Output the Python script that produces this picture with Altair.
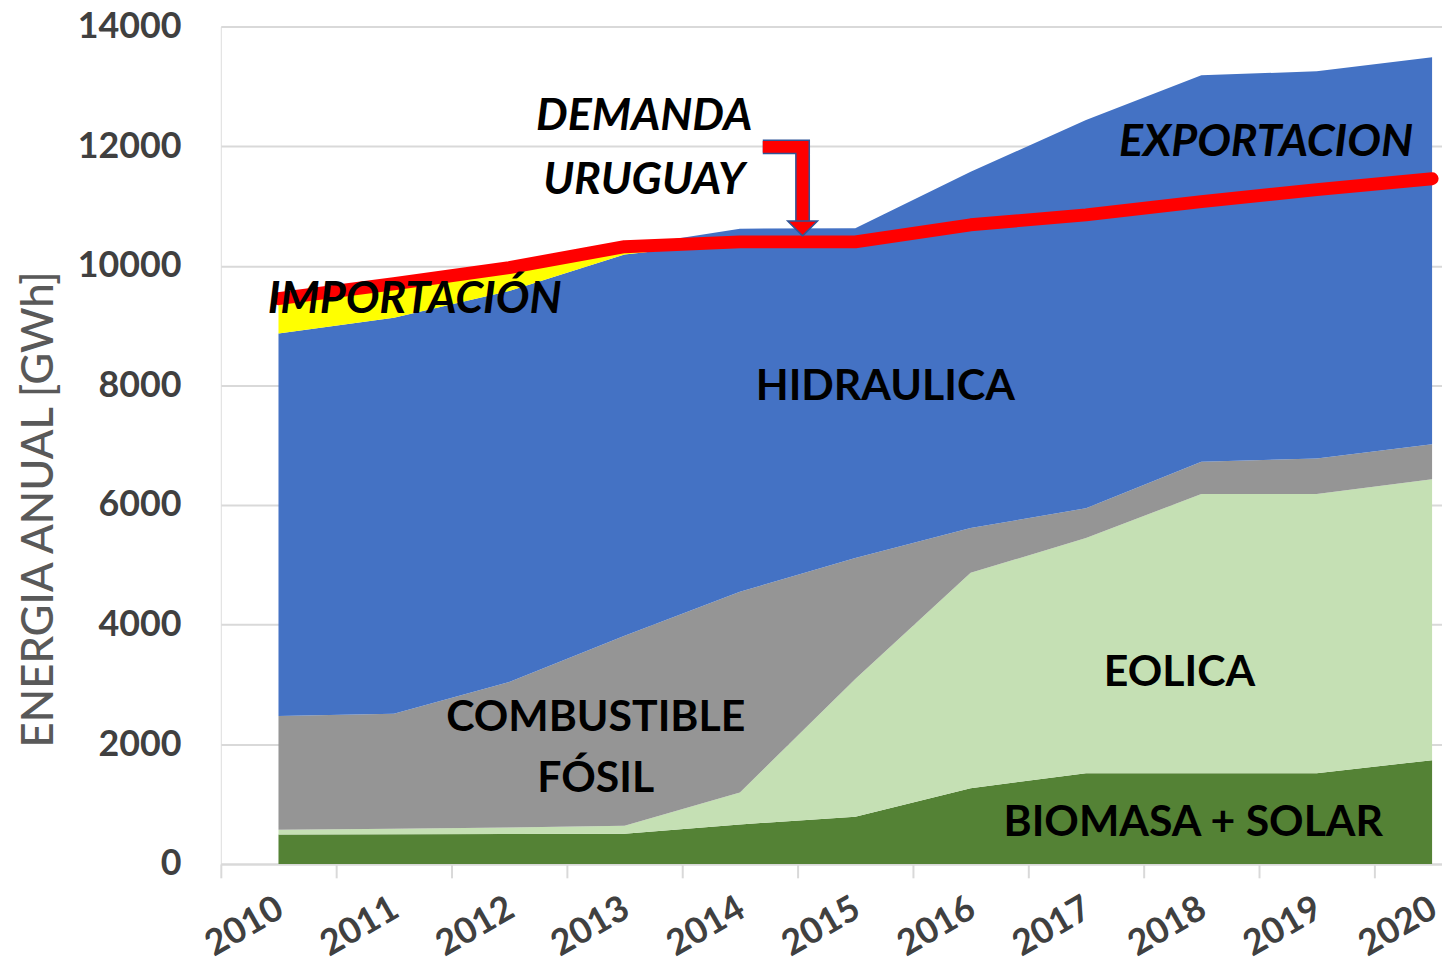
import altair as alt
import pandas as pd

# ---- datos (GWh) ----
anios = list(range(2010, 2021))
series = ["BIOMASA + SOLAR", "EOLICA", "COMBUSTIBLE FÓSIL", "HIDRAULICA", "IMPORTACIÓN", "EXPORTACION"]
colores = ["#548235", "#C5E0B4", "#959595", "#4472C4", "#FFFF00", "#4472C4"]
biomasa_solar = [490, 495, 500, 505, 660, 790, 1265, 1515, 1515, 1515, 1735]
eolica = [81, 92, 110, 132, 535, 2303, 3601, 3934, 4670, 4670, 4695]
combustible_fosil = [1901, 1924, 2430, 3178, 3355, 2023, 749, 498, 538, 594, 587]
hidraulica = [6396, 6622, 6537, 6375, 5850, 5284, 5071, 4905, 4351, 4494, 4439]
importacion = [582, 567, 393, 130, 0, 0, 0, 0, 0, 0, 0]
exportacion = [0, 0, 0, 0, 220, 230, 887, 1585, 2111, 1979, 2029]
demanda = [9450, 9700, 9970, 10320, 10400, 10400, 10686, 10852, 11074, 11273, 11456]

# etiquetas dentro del gráfico (coordenadas de datos)
etiquetas = ["HIDRAULICA", "COMBUSTIBLE", "FÓSIL", "EOLICA", "BIOMASA + SOLAR"]
etiq_x = [2015.26, 2012.75, 2012.75, 2017.81, 2017.93]
etiq_y = [7980, 2440, 1410, 3190, 680]
cursivas = ["DEMANDA", "URUGUAY", "IMPORTACIÓN", "EXPORTACION"]
curs_x = [2013.17, 2013.17, 2011.18, 2018.56]
curs_y = [12500, 11440, 9440, 12070]

# flecha "DEMANDA URUGUAY"
flecha_x = [2014.198, 2014.543, 2014.543]
flecha_y = [11988, 11988, 10708]
punta_x = [2014.543]
punta_y = [10625]

ticks_y = list(range(0, 14001, 2000))
limites_x = [2009.5 + i for i in range(11)]

# ---- tablas ----
valores = [biomasa_solar, eolica, combustible_fosil, hidraulica, importacion, exportacion]
filas = []
for k, (s, vals) in enumerate(zip(series, valores)):
    for a, v in zip(anios, vals):
        filas.append({"anio": a, "serie": s, "valor": v, "orden": k})
df_area = pd.DataFrame(filas)
df_dem = pd.DataFrame({"anio": anios, "demanda": demanda})
df_et = pd.DataFrame({"x": etiq_x, "y": etiq_y, "t": etiquetas})
df_cu = pd.DataFrame({"x": curs_x, "y": curs_y, "t": cursivas})
df_fl = pd.DataFrame({"x": flecha_x, "y": flecha_y, "i": list(range(len(flecha_x)))})
df_pu = pd.DataFrame({"x": punta_x, "y": punta_y})

FONT = "Lato"
TITULO_Y = "ENERGIA ANUAL [GWh]"
xscale = alt.Scale(domain=[2009.5, 2020.086], nice=False, zero=False)
yscale = alt.Scale(domain=[0, 14000], nice=False)

x_axis_labels = alt.Axis(
    values=anios, format="d", labelAngle=330, labelAlign="right", labelBaseline="top",
    ticks=False, tickSize=0, domain=True, domainColor="#D9D9D9", domainWidth=2, grid=False,
    labelPadding=27, labelOffset=-7, labelFont=FONT, labelFontSize=36, labelFontWeight="bold",
    labelColor="#404040", title=None, orient="bottom", labelOverlap=False, labelBound=False,
)
x_axis_ticks = alt.Axis(
    values=limites_x, labels=False, ticks=True, tickSize=14, tickColor="#D9D9D9",
    tickWidth=2, domain=False, grid=False, title=None, orient="bottom",
)
y_axis = alt.Axis(
    values=ticks_y, format="d", grid=True, gridColor="#D9D9D9", gridWidth=2, domain=False,
    ticks=False, labelPadding=40, labelFont=FONT, labelFontSize=36, labelFontWeight="bold",
    labelColor="#404040", title=TITULO_Y, titleFont=FONT, titleFontSize=44,
    titleFontWeight=500, titleColor="#595959", titleX=-182, titleY=485,
    titleAngle=270, titleAlign="center", titleBaseline="middle",
)


def Y(campo, **kw):
    return alt.Y(campo, scale=yscale, axis=y_axis, title=TITULO_Y, **kw)


def X(campo, axis=None):
    return alt.X(campo, scale=xscale, axis=axis)


areas = alt.Chart(df_area).mark_area(opacity=1).encode(
    x=X("anio:Q", x_axis_labels),
    y=Y("valor:Q", stack="zero"),
    color=alt.Color("serie:N", scale=alt.Scale(domain=series, range=colores), legend=None),
    order=alt.Order("orden:Q"),
)

linea = alt.Chart(df_dem).mark_line(
    color="#FF0000", strokeWidth=13, strokeCap="round", strokeJoin="round"
).encode(x=X("anio:Q", x_axis_ticks), y=Y("demanda:Q"))

flecha_borde = alt.Chart(df_fl).mark_line(
    color="#2F5597", strokeWidth=15, strokeCap="butt", strokeJoin="miter"
).encode(x=X("x:Q"), y=Y("y:Q"), order="i:Q")
flecha = alt.Chart(df_fl).mark_line(
    color="#FF0000", strokeWidth=12, strokeCap="butt", strokeJoin="miter"
).encode(x=X("x:Q"), y=Y("y:Q"), order="i:Q")
punta = alt.Chart(df_pu).mark_point(
    shape="M-1,-0.5L1,-0.5L0,0.5Z", size=900, filled=True, fill="#FF0000",
    stroke="#2F5597", strokeWidth=1.5, opacity=1,
).encode(x=X("x:Q"), y=Y("y:Q"))

textos = alt.Chart(df_et).mark_text(
    font=FONT, fontSize=43, fontWeight="bold", color="#000000", align="center", baseline="middle",
).encode(x=X("x:Q"), y=Y("y:Q"), text="t:N")
textos_cur = alt.Chart(df_cu).mark_text(
    font=FONT, fontSize=45, fontWeight="bold", fontStyle="italic", color="#000000",
    align="center", baseline="middle",
).encode(x=X("x:Q"), y=Y("y:Q"), text="t:N")

chart = alt.layer(
    areas, linea, flecha_borde, flecha, punta, textos, textos_cur
).resolve_axis(x="independent").properties(
    width=1228, height=842,
    autosize=alt.AutoSizeParams(type="none"),
    padding={"left": 214, "top": 16, "right": 0, "bottom": 100},
).configure_view(strokeWidth=0, stroke="transparent").configure(background="white")

chart.save("out.html", embed_options={"renderer": "svg", "actions": False})
